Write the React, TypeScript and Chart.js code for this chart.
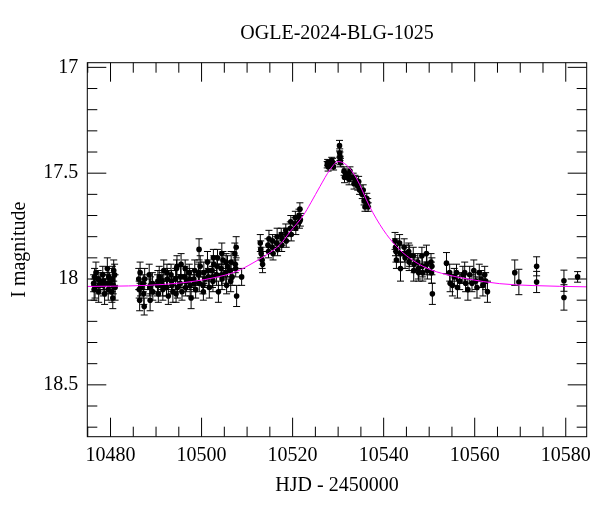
import React, { useEffect, useRef } from 'react';
import { Chart, registerables } from 'chart.js';

Chart.register(...registerables);

const TITLE = 'OGLE-2024-BLG-1025';
const X_LABEL = 'HJD - 2450000';
const Y_LABEL = 'I magnitude';
const FONT = "'Liberation Serif', 'Times New Roman', serif";

const X_MIN = 10474.9;
const X_MAX = 10584.6;
const Y_MIN = 16.978;
const Y_MAX = 18.745;

const xTickValues = [10480, 10500, 10520, 10540, 10560, 10580];
const xTickLabels = ['10480', '10500', '10520', '10540', '10560', '10580'];
const X_MINOR_STEP = 5;
const yTickValues = [17, 17.5, 18, 18.5];
const yTickLabels = ['17', '17.5', '18', '18.5'];
const Y_MINOR_STEP = 0.1;

// ---- observations (HJD-2450000, I mag, error) ----
const hjdBase1 = [
  10476.3, 10476.4, 10476.5, 10476.6, 10476.8, 10477.3, 10477.4, 10477.5, 10477.7, 10478.3, 10478.4, 10478.5, 10478.7,
  10479.3, 10479.4, 10479.5, 10479.6, 10479.8, 10480.3, 10480.4, 10480.5, 10480.6, 10480.7, 10480.9, 10481.0,
];
const magBase1 = [
  18.02, 18.05, 17.99, 18.04, 17.97, 18.00, 18.06, 18.03, 18.01, 17.98, 18.03, 18.01, 18.07,
  17.95, 18.02, 18.05, 17.99, 18.02, 18.06, 18.00, 18.09, 18.03, 17.96, 17.98, 18.04,
];
const errBase1 = [
  0.04, 0.05, 0.04, 0.05, 0.05, 0.04, 0.05, 0.04, 0.04, 0.04, 0.05, 0.04, 0.05,
  0.05, 0.04, 0.05, 0.04, 0.05, 0.05, 0.06, 0.05, 0.04, 0.05, 0.05, 0.06,
];

const hjdBase2 = [10486.2, 10486.3, 10486.4, 10486.5, 10486.6, 10487.2, 10487.3, 10487.4, 10487.5, 10488.5, 10488.6, 10488.7, 10488.8, 10489.2, 10489.3];
const magBase2 = [18.00, 18.05, 18.10, 17.97, 18.04, 18.02, 18.07, 18.13, 18.00, 17.98, 18.04, 18.10, 18.03, 18.02, 18.06];
const errBase2 = [0.05, 0.04, 0.05, 0.05, 0.04, 0.04, 0.05, 0.04, 0.05, 0.05, 0.04, 0.05, 0.04, 0.05, 0.04];

const hjdBase3 = [
  10490.3, 10490.4, 10490.5, 10490.7, 10491.3, 10491.4, 10491.5, 10491.7, 10492.3, 10492.4, 10492.5, 10492.7,
  10493.3, 10493.4, 10493.5, 10493.7, 10494.3, 10494.4, 10494.5, 10494.7, 10495.3, 10495.4, 10495.5, 10495.7,
  10496.3, 10496.4, 10496.5, 10496.7, 10497.3, 10497.4, 10497.5, 10497.7, 10498.3, 10498.4, 10498.5, 10498.7,
  10499.3, 10499.4, 10499.5, 10499.7, 10500.3, 10500.4, 10500.5, 10500.7, 10501.3, 10501.4, 10501.5, 10501.7,
  10502.3, 10502.4, 10502.5, 10502.7, 10503.3, 10503.4, 10503.5, 10503.7, 10504.3, 10504.4, 10504.5, 10504.7,
  10505.3, 10505.4, 10505.5, 10505.7, 10506.3, 10506.4, 10506.5, 10506.7, 10507.3, 10507.4, 10507.5, 10507.7,
  10494.6, 10499.45, 10502.6, 10504.45, 10507.6, 10508.8,
];
const magBase3 = [
  18.03, 18.01, 18.07, 17.99, 18.01, 18.03, 18.05, 17.96, 18.04, 17.97, 18.00, 18.08,
  17.98, 18.01, 18.03, 18.06, 18.00, 18.07, 17.95, 18.04, 18.02, 17.99, 17.93, 18.06,
  17.99, 17.95, 18.04, 18.01, 17.97, 18.00, 18.03, 18.09, 18.00, 18.02, 17.96, 18.05,
  17.98, 17.97, 18.02, 17.94, 18.03, 18.06, 17.97, 18.00, 17.92, 17.96, 17.99, 18.04,
  17.96, 17.99, 18.01, 17.93, 17.98, 17.94, 17.90, 18.06, 17.95, 17.98, 18.00, 17.91,
  17.97, 17.92, 18.03, 17.94, 17.96, 18.01, 17.92, 17.99, 17.88, 17.93, 17.95, 18.08,
  17.94, 17.86, 17.90, 17.88, 17.85, 17.99,
];
const errBase3 = [
  0.05, 0.05, 0.04, 0.05, 0.04, 0.05, 0.05, 0.05, 0.04, 0.04, 0.05, 0.04,
  0.05, 0.05, 0.04, 0.05, 0.05, 0.04, 0.04, 0.05, 0.04, 0.05, 0.05, 0.04,
  0.05, 0.04, 0.04, 0.05, 0.04, 0.05, 0.05, 0.05, 0.04, 0.04, 0.05, 0.04,
  0.05, 0.05, 0.04, 0.05, 0.04, 0.04, 0.05, 0.04, 0.05, 0.05, 0.04, 0.05,
  0.04, 0.05, 0.05, 0.04, 0.05, 0.04, 0.04, 0.05, 0.04, 0.05, 0.05, 0.04,
  0.05, 0.04, 0.04, 0.05, 0.04, 0.05, 0.05, 0.04, 0.05, 0.04, 0.04, 0.05,
  0.05, 0.05, 0.04, 0.05, 0.05, 0.04,
];

const hjdRise = [
  10512.9, 10513.0, 10513.1, 10513.3, 10513.4,
  10514.6, 10514.7, 10514.8, 10515.5, 10515.6, 10515.7, 10516.5, 10516.6, 10516.7,
  10517.5, 10517.6, 10517.7, 10518.5, 10518.6, 10518.7, 10519.5, 10519.6, 10519.7,
  10520.5, 10520.6, 10520.7, 10521.4, 10521.5, 10521.6, 10521.7,
];
const magRise = [
  17.83, 17.86, 17.88, 17.91, 17.93,
  17.84, 17.87, 17.81, 17.85, 17.82, 17.88, 17.83, 17.80, 17.86,
  17.79, 17.84, 17.81, 17.77, 17.82, 17.79, 17.76, 17.73, 17.79,
  17.74, 17.71, 17.76, 17.70, 17.73, 17.67, 17.72,
];
const errRise = [
  0.04, 0.04, 0.03, 0.04, 0.04,
  0.03, 0.03, 0.04, 0.03, 0.03, 0.03, 0.03, 0.04, 0.03,
  0.03, 0.03, 0.03, 0.03, 0.03, 0.03, 0.03, 0.03, 0.03,
  0.03, 0.03, 0.03, 0.03, 0.03, 0.03, 0.03,
];

const hjdPeak = [10527.6, 10527.7, 10527.8, 10528.6, 10528.7, 10528.8, 10529.0, 10530.3, 10530.35, 10530.4, 10530.45, 10530.5];
const magPeak = [17.46, 17.45, 17.47, 17.44, 17.46, 17.45, 17.47, 17.37, 17.405, 17.42, 17.44, 17.45];
const errPeak = [0.015, 0.015, 0.02, 0.015, 0.015, 0.02, 0.015, 0.025, 0.02, 0.02, 0.02, 0.02];

const hjdFall = [
  10531.3, 10531.4, 10531.6, 10532.3, 10532.4, 10532.6, 10533.3, 10533.5, 10533.7, 10534.3,
  10534.5, 10534.7, 10535.3, 10535.5, 10535.7, 10535.9, 10536.3, 10536.5, 10536.6,
];
const magFall = [
  17.49, 17.52, 17.50, 17.51, 17.53, 17.49, 17.52, 17.55, 17.53, 17.56,
  17.54, 17.58, 17.60, 17.58, 17.63, 17.66, 17.62, 17.64, 17.66,
];
const errFall = [
  0.02, 0.025, 0.02, 0.02, 0.025, 0.02, 0.02, 0.025, 0.02, 0.02,
  0.025, 0.02, 0.02, 0.025, 0.02, 0.02, 0.025, 0.02, 0.02,
];

const hjdTail1 = [
  10542.5, 10542.6, 10542.7, 10542.8, 10543.5, 10543.6, 10543.7, 10544.5, 10544.6, 10544.7,
  10545.5, 10545.6, 10545.7, 10546.5, 10546.6, 10546.7, 10547.5, 10547.6, 10547.7, 10548.4,
  10548.5, 10548.6, 10549.4, 10549.5, 10549.6, 10550.4, 10550.5, 10550.6, 10550.7, 10553.8,
];
const magTail1 = [
  17.82, 17.85, 17.87, 17.91, 17.83, 17.88, 17.95, 17.85, 17.88, 17.90,
  17.87, 17.92, 17.89, 17.89, 17.96, 17.93, 17.92, 17.95, 17.97, 17.89,
  17.94, 17.97, 17.88, 17.93, 17.96, 17.92, 17.97, 17.94, 18.07, 17.925,
];
const errTail1 = [
  0.04, 0.04, 0.05, 0.04, 0.04, 0.04, 0.06, 0.04, 0.04, 0.05,
  0.04, 0.04, 0.05, 0.04, 0.05, 0.04, 0.04, 0.05, 0.04, 0.04,
  0.05, 0.04, 0.04, 0.05, 0.04, 0.04, 0.05, 0.04, 0.05, 0.05,
];

const hjdTail2 = [
  10554.5, 10554.6, 10555.1, 10555.5, 10556.0, 10556.2, 10556.7, 10557.4, 10557.8, 10558.0, 10558.5,
  10558.9, 10559.4, 10559.8, 10560.2, 10560.5, 10561.0, 10561.4, 10561.8, 10562.2, 10562.4, 10562.8,
];
const magTail2 = [
  17.97, 18.02, 18.03, 17.99, 17.97, 18.04, 18.01, 17.98, 17.97, 18.02, 18.05,
  17.98, 18.02, 17.96, 18.01, 18.04, 17.97, 18.00, 18.03, 17.98, 18.01, 18.06,
];
const errTail2 = [
  0.04, 0.04, 0.05, 0.04, 0.04, 0.05, 0.04, 0.04, 0.05, 0.04, 0.05,
  0.04, 0.04, 0.05, 0.04, 0.05, 0.04, 0.04, 0.05, 0.04, 0.04, 0.05,
];

const hjdLate = [10568.8, 10569.7, 10573.6, 10573.6, 10579.6, 10579.6, 10582.6];
const magLate = [17.97, 18.014, 17.94, 18.014, 18.008, 18.087, 17.99];
const errLate = [0.06, 0.06, 0.045, 0.05, 0.05, 0.06, 0.025];

// ---- model curve ----
const modelHjd = [
  10474.9, 10480, 10487.9, 10495.2, 10502.5, 10507.7, 10511.3, 10514.3, 10517.2, 10519.5,
  10522.3, 10524, 10526, 10528.2, 10530, 10531.8, 10534, 10536.9, 10539.9, 10542.8,
  10545.7, 10549.4, 10553.8, 10558.5, 10565.5, 10572.8, 10584.6,
];
const modelMag = [
  18.035, 18.034, 18.030, 18.019, 17.995, 17.964, 17.924, 17.885, 17.838, 17.775,
  17.701, 17.640, 17.563, 17.484, 17.445, 17.461, 17.523, 17.657, 17.767, 17.846,
  17.901, 17.948, 17.979, 18.000, 18.022, 18.031, 18.037,
];

const hjd = [...hjdBase1, ...hjdBase2, ...hjdBase3, ...hjdRise, ...hjdPeak, ...hjdFall, ...hjdTail1, ...hjdTail2, ...hjdLate];
const mag = [...magBase1, ...magBase2, ...magBase3, ...magRise, ...magPeak, ...magFall, ...magTail1, ...magTail2, ...magLate];
const magErr = [...errBase1, ...errBase2, ...errBase3, ...errRise, ...errPeak, ...errFall, ...errTail1, ...errTail2, ...errLate];

const MAJOR_LEN = 19;
const MINOR_LEN = 10;
const CAP = 3.5;

const errorBarsPlugin = {
  id: 'errorBars',
  beforeDatasetsDraw(chart: any) {
    const { ctx, chartArea: a, scales } = chart;
    const xs = scales.x;
    const ys = scales.y;
    ctx.save();
    ctx.beginPath();
    ctx.rect(a.left, a.top, a.right - a.left, a.bottom - a.top);
    ctx.clip();
    ctx.strokeStyle = '#000';
    ctx.lineWidth = 1;
    ctx.beginPath();
    for (let i = 0; i < hjd.length; i++) {
      const px = xs.getPixelForValue(hjd[i]);
      const y1 = ys.getPixelForValue(mag[i] - magErr[i]);
      const y2 = ys.getPixelForValue(mag[i] + magErr[i]);
      ctx.moveTo(px, y1);
      ctx.lineTo(px, y2);
      ctx.moveTo(px - CAP, y1);
      ctx.lineTo(px + CAP, y1);
      ctx.moveTo(px - CAP, y2);
      ctx.lineTo(px + CAP, y2);
    }
    ctx.stroke();
    ctx.restore();
  },
};

const framePlugin = {
  id: 'frameTicks',
  afterDraw(chart: any) {
    const { ctx, chartArea: a, scales } = chart;
    const xs = scales.x;
    const ys = scales.y;
    ctx.save();
    ctx.strokeStyle = '#000';
    ctx.lineWidth = 1;
    ctx.beginPath();
    const kx0 = Math.ceil(X_MIN / X_MINOR_STEP);
    const kx1 = Math.floor(X_MAX / X_MINOR_STEP);
    for (let k = kx0; k <= kx1; k++) {
      const v = k * X_MINOR_STEP;
      const major = xTickValues.some((t) => Math.abs(t - v) < 1e-6);
      const len = major ? MAJOR_LEN : MINOR_LEN;
      const px = xs.getPixelForValue(v);
      ctx.moveTo(px, a.bottom);
      ctx.lineTo(px, a.bottom - len);
      ctx.moveTo(px, a.top);
      ctx.lineTo(px, a.top + len);
    }
    const ky0 = Math.ceil(Y_MIN / Y_MINOR_STEP - 1e-9);
    const ky1 = Math.floor(Y_MAX / Y_MINOR_STEP + 1e-9);
    for (let k = ky0; k <= ky1; k++) {
      const v = k * Y_MINOR_STEP;
      const major = yTickValues.some((t) => Math.abs(t - v) < 1e-6);
      const len = major ? MAJOR_LEN : MINOR_LEN;
      const py = ys.getPixelForValue(v);
      ctx.moveTo(a.left, py);
      ctx.lineTo(a.left + len, py);
      ctx.moveTo(a.right, py);
      ctx.lineTo(a.right - len, py);
    }
    ctx.stroke();
    ctx.strokeRect(a.left, a.top, a.right - a.left, a.bottom - a.top);
    ctx.restore();
  },
};

export default function App() {
  const canvasRef = useRef<HTMLCanvasElement | null>(null);

  useEffect(() => {
    document.body.style.margin = '0';
    const canvas = canvasRef.current;
    if (!canvas) return;
    const points = hjd.map((t, i) => ({ x: t, y: mag[i] }));
    const model = modelHjd.map((t, i) => ({ x: t, y: modelMag[i] }));
    const chart = new Chart(canvas, {
      type: 'scatter',
      data: {
        datasets: [
          {
            type: 'line',
            label: 'model',
            data: model,
            borderColor: '#ff00ff',
            borderWidth: 1,
            pointRadius: 0,
            fill: false,
            cubicInterpolationMode: 'monotone',
            order: 0,
          } as any,
          {
            label: 'data',
            data: points,
            backgroundColor: '#000',
            borderColor: '#000',
            pointRadius: 2.8,
            pointBorderWidth: 0,
            order: 1,
          },
        ],
      },
      options: {
        responsive: false,
        devicePixelRatio: 1,
        animation: false,
        layout: { padding: { left: 0, right: 13.3, top: 0, bottom: 0 } },
        plugins: {
          legend: { display: false },
          tooltip: { enabled: false },
          title: {
            display: true,
            fullSize: false,
            text: TITLE,
            color: '#000',
            font: { family: FONT, size: 20, weight: 'normal' },
            padding: { top: 22, bottom: 16.7 },
          },
        },
        scales: {
          x: {
            type: 'linear',
            min: X_MIN,
            max: X_MAX,
            grid: { display: false, drawTicks: false },
            border: { display: false },
            afterBuildTicks: (s: any) => {
              s.ticks = xTickValues.map((v) => ({ value: v }));
            },
            afterFit: (s: any) => {
              s.height = 75.3;
            },
            ticks: {
              color: '#000',
              font: { family: FONT, size: 20 },
              padding: 7,
              maxRotation: 0,
              autoSkip: false,
              callback: (v: any) => {
                const i = xTickValues.indexOf(Number(v));
                return i >= 0 ? xTickLabels[i] : '';
              },
            },
            title: {
              display: true,
              text: X_LABEL,
              color: '#000',
              font: { family: FONT, size: 20 },
              padding: { top: 0, bottom: 14 },
            },
          },
          y: {
            type: 'linear',
            reverse: true,
            min: Y_MIN,
            max: Y_MAX,
            grid: { display: false, drawTicks: false },
            border: { display: false },
            afterBuildTicks: (s: any) => {
              s.ticks = yTickValues.map((v) => ({ value: v }));
            },
            afterFit: (s: any) => {
              s.width = 87.3;
            },
            ticks: {
              color: '#000',
              font: { family: FONT, size: 20 },
              padding: 9,
              autoSkip: false,
              callback: (v: any) => {
                const i = yTickValues.findIndex((t) => Math.abs(t - Number(v)) < 1e-6);
                return i >= 0 ? yTickLabels[i] : '';
              },
            },
            title: {
              display: true,
              text: Y_LABEL,
              color: '#000',
              font: { family: FONT, size: 20 },
              padding: { top: 8, bottom: 0 },
            },
          },
        },
      },
      plugins: [errorBarsPlugin, framePlugin],
    });
    return () => chart.destroy();
  }, []);

  return (
    <div style={{ position: 'absolute', left: 0, top: 0, width: 600, height: 512, background: '#fff' }}>
      <canvas ref={canvasRef} width={600} height={512} style={{ display: 'block', width: 600, height: 512 }} />
    </div>
  );
}
